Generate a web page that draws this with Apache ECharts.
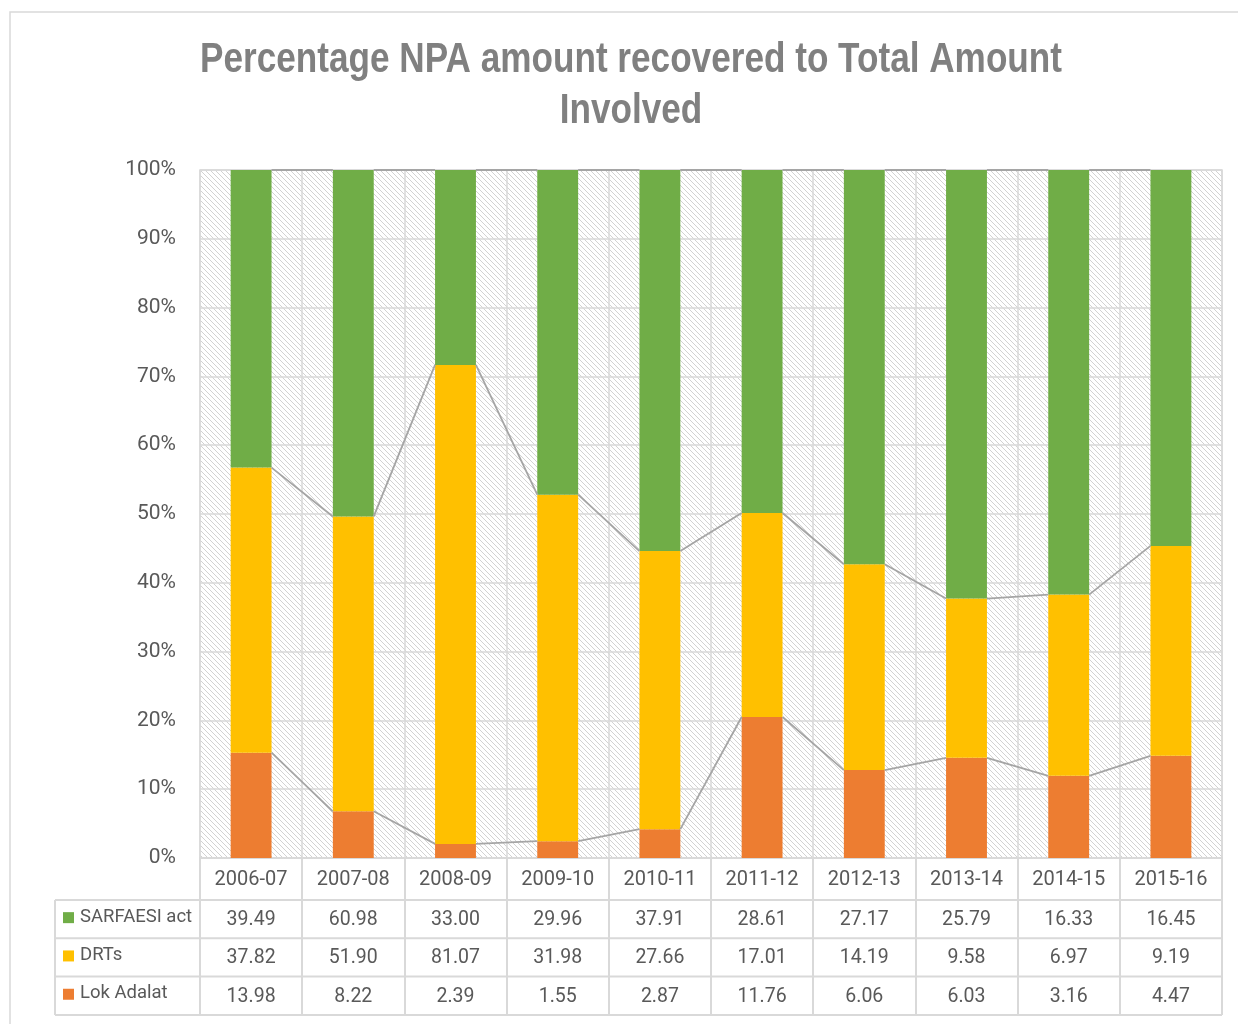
<!DOCTYPE html>
<html>
<head>
<meta charset="utf-8">
<script src="https://cdn.jsdelivr.net/npm/echarts@6/dist/echarts.min.js"></script>
<style>
html, body { margin: 0; padding: 0; background: #fff; }
#main { width: 1238px; height: 1024px; }
</style>
</head>
<body>
<div id="main"></div>
<script>
// years
var years = ['2006-07', '2007-08', '2008-09', '2009-10', '2010-11', '2011-12', '2012-13', '2013-14', '2014-15', '2015-16']
// raw values from the data table
var sarfaesi = [39.49, 60.98, 33.00, 29.96, 37.91, 28.61, 27.17, 25.79, 16.33, 16.45]
var drts = [37.82, 51.90, 81.07, 31.98, 27.66, 17.01, 14.19, 9.58, 6.97, 9.19]
var lokAdalat = [13.98, 8.22, 2.39, 1.55, 2.87, 11.76, 6.06, 6.03, 3.16, 4.47]
var rowNames = ['SARFAESI act', 'DRTs', 'Lok Adalat']
var colors = ['#70ad47', '#ffc000', '#ed7d31']
var titleLines = ['Percentage NPA amount recovered to Total Amount', 'Involved']

// layout
var gridLeft = 200, gridTop = 170, gridW = 1022, gridH = 688
var headerH = 42, rowH = 38.3
var textColor = '#595959'
var lineColor = '#d9d9d9'
var font = 'Roboto, sans-serif'

// 100% stacked
var lokPct = [], drtPct = [], sarPct = []
var lokTop = [], drtTop = []
for (var i = 0; i < years.length; i++) {
	var total = sarfaesi[i] + drts[i] + lokAdalat[i]
	lokPct.push(lokAdalat[i] / total * 100)
	drtPct.push(drts[i] / total * 100)
	sarPct.push(sarfaesi[i] / total * 100)
	lokTop.push(lokPct[i])
	drtTop.push(lokPct[i] + drtPct[i])
}

// series lines between neighbouring bars
var seriesLineData = []
for (var i = 0; i < years.length - 1; i++) {
	seriesLineData.push([i, lokTop[i], lokTop[i + 1], drtTop[i], drtTop[i + 1]])
}

// diagonal hatch for the plot background
var hatch = document.createElement('canvas')
hatch.width = 5
hatch.height = 5
var hctx = hatch.getContext('2d')
hctx.fillStyle = '#fff'
hctx.fillRect(0, 0, 5, 5)
hctx.strokeStyle = '#d2d2d2'
hctx.lineWidth = 1
hctx.beginPath()
hctx.moveTo(-1, -1); hctx.lineTo(6, 6)
hctx.moveTo(-1, 4); hctx.lineTo(1, 6)
hctx.moveTo(4, -1); hctx.lineTo(6, 1)
hctx.stroke()

// narrow title: squeeze a bold font to the reference width
var titleFont = 'bold 42px "Liberation Sans", Arial, sans-serif'
hctx.font = titleFont
var titleScale = 862 / hctx.measureText(titleLines[0]).width

var chart = echarts.init(document.getElementById('main'))

// table: horizontal rules and row labels
var tableTop = gridTop + gridH
var rowTops = [tableTop + headerH, tableTop + headerH + rowH, tableTop + headerH + rowH * 2, tableTop + headerH + rowH * 3]
var graphics = [{
	type: 'rect',
	shape: { x: 10, y: 12, width: 1240, height: 1030 },
	style: { fill: null, stroke: lineColor, lineWidth: 1.5 },
	z: -10
}]
titleLines.forEach(function (t, k) {
	graphics.push({
		type: 'text',
		x: 631, y: 60 + k * 51,
		scaleX: titleScale,
		style: { text: t, fill: '#808080', font: titleFont, align: 'center', verticalAlign: 'middle' }
	})
})
rowTops.forEach(function (y) {
	graphics.push({
		type: 'line',
		shape: { x1: 55, y1: y, x2: gridLeft + gridW, y2: y },
		style: { stroke: lineColor, lineWidth: 2 }
	})
})
graphics.push({
	type: 'line',
	shape: { x1: 55, y1: rowTops[0], x2: 55, y2: rowTops[3] },
	style: { stroke: lineColor, lineWidth: 2 }
})
rowNames.forEach(function (name, k) {
	var cy = rowTops[k] + rowH / 2
	graphics.push({
		type: 'rect',
		shape: { x: 63, y: cy - 7, width: 11, height: 11 },
		style: { fill: colors[k] }
	})
	graphics.push({
		type: 'text',
		x: 80, y: cy - 2,
		style: { text: name, fill: textColor, font: '18.5px ' + font, verticalAlign: 'middle' }
	})
})

var option = {
	animation: false,
	grid: {
		left: gridLeft, top: gridTop, width: gridW, height: gridH,
		show: true,
		backgroundColor: { image: hatch, repeat: 'repeat' },
		borderColor: lineColor,
		borderWidth: 1.5
	},
	xAxis: {
		type: 'category',
		data: years,
		axisLine: { lineStyle: { color: lineColor, width: 2 } },
		axisTick: { show: true, length: headerH + rowH * 3, lineStyle: { color: lineColor, width: 2 } },
		splitLine: { show: true, interval: 0, lineStyle: { color: lineColor, width: 1.5 } },
		axisLabel: {
			interval: 0,
			margin: 1,
			formatter: function (value, idx) {
				return '{h|' + value + '}\n{v|' + sarfaesi[idx].toFixed(2) + '}\n{v|' +
					drts[idx].toFixed(2) + '}\n{v|' + lokAdalat[idx].toFixed(2) + '}'
			},
			rich: {
				h: { fontSize: 20, fontFamily: font, color: textColor, lineHeight: headerH },
				v: { fontSize: 19.5, fontFamily: font, color: textColor, lineHeight: rowH }
			}
		}
	},
	yAxis: {
		type: 'value',
		min: 0,
		max: 100,
		interval: 10,
		axisLine: { show: false },
		axisTick: { show: false },
		splitLine: { lineStyle: { color: lineColor, width: 1.5 } },
		axisLabel: { formatter: '{value}%', fontSize: 21, fontFamily: font, color: textColor, margin: 24 }
	},
	series: [{
		name: 'Lok Adalat',
		type: 'bar',
		stack: 'total',
		barWidth: '40%',
		itemStyle: { color: colors[2] },
		data: lokPct
	}, {
		name: 'DRTs',
		type: 'bar',
		stack: 'total',
		barWidth: '40%',
		itemStyle: { color: colors[1] },
		data: drtPct
	}, {
		name: 'SARFAESI act',
		type: 'bar',
		stack: 'total',
		barWidth: '40%',
		itemStyle: { color: colors[0] },
		data: sarPct
	}, {
		type: 'custom',
		z: 3,
		silent: true,
		encode: { x: 0, y: 1 },
		renderItem: function (params, api) {
			var i = api.value(0)
			var half = api.size([1, 0])[0] * 0.2
			var pairs = [[api.value(1), api.value(2)], [api.value(3), api.value(4)], [100, 100]]
			var children = pairs.map(function (p) {
				var a = api.coord([i, p[0]])
				var b = api.coord([i + 1, p[1]])
				return {
					type: 'line',
					shape: { x1: a[0] + half, y1: a[1], x2: b[0] - half, y2: b[1] },
					style: { stroke: '#a5a5a5', lineWidth: 1.8 }
				}
			})
			return { type: 'group', children: children }
		},
		data: seriesLineData
	}],
	graphic: graphics
}

chart.setOption(option)
</script>
</body>
</html>
